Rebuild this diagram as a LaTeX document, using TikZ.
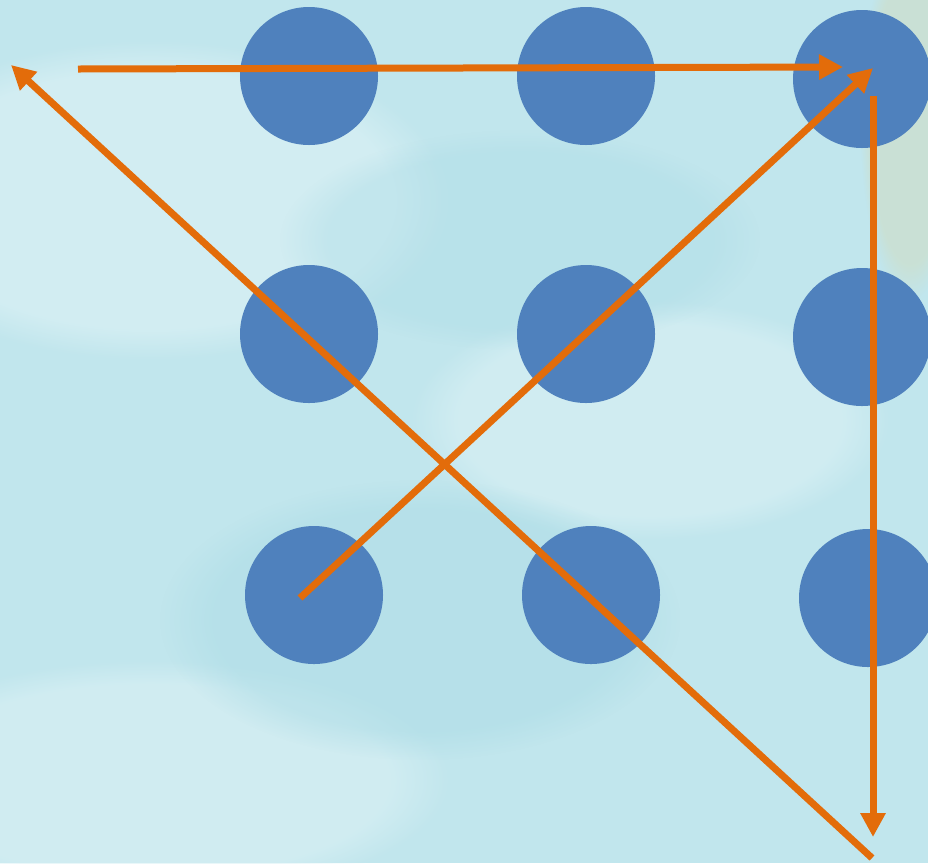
\documentclass[tikz,border=0pt]{standalone}
\usetikzlibrary{arrows.meta,fadings}
\definecolor{bgblue}{RGB}{193,230,237}
\definecolor{bglight}{RGB}{218,241,245}
\definecolor{bgdeep}{RGB}{172,220,230}
\definecolor{sand}{RGB}{210,220,190}
\definecolor{dotblue}{RGB}{79,129,189}
\definecolor{arrorange}{RGB}{227,108,10}
\newcommand{\unitpx}{*0.02cm}
\tikzset{
  dot/.style={circle, fill=dotblue, minimum size=138\unitpx, inner sep=0pt},
  movearrow/.style={draw=arrorange, line width=7\unitpx,
    -{Triangle[length=24\unitpx, width=24\unitpx]}},
  wash/.style={path fading=circle with fuzzy edge 20 percent, fill=#1},
}
\begin{document}
\begin{tikzpicture}[x=0.02cm, y=-0.02cm]
  % background
  \fill[bgblue] (0,0) rectangle (928,863);
  \useasboundingbox (0,0) rectangle (928,863);
  \begin{scope}
    \clip (0,0) rectangle (928,863);
    \fill[wash=bglight, opacity=0.7] (150,200) ellipse (300 and 160);
    \fill[wash=bglight, opacity=0.6] (650,420) ellipse (240 and 120);
    \fill[wash=bglight, opacity=0.6] (150,780) ellipse (300 and 120);
    \fill[wash=bgdeep, opacity=0.5] (420,620) ellipse (260 and 140);
    \fill[wash=bgdeep, opacity=0.4] (520,240) ellipse (240 and 110);
    \fill[wash=sand, opacity=0.5] (910,120) ellipse (50 and 180);
  \end{scope}
  % dots
  \node[dot] (d11) at (309,76) {};
  \node[dot] (d12) at (586,76) {};
  \node[dot] (d13) at (862,79) {};
  \node[dot] (d21) at (309,334) {};
  \node[dot] (d22) at (586,334) {};
  \node[dot] (d23) at (862,337) {};
  \node[dot] (d31) at (314,595) {};
  \node[dot] (d32) at (591,595) {};
  \node[dot] (d33) at (868,598) {};
  % path coordinates
  \coordinate (s1) at (78,69);
  \coordinate (e1) at (843,67);
  \coordinate (s2) at (300,598);
  \coordinate (e2) at (873,68);
  \coordinate (s3) at (873,96);
  \coordinate (e3) at (873,837);
  \coordinate (s4) at (872,858);
  \coordinate (e4) at (11,65);
  % arrows
  \draw[movearrow] (s1) -- (e1);
  \draw[movearrow] (s2) -- (e2);
  \draw[movearrow] (s3) -- (e3);
  \draw[movearrow] (s4) -- (e4);
\end{tikzpicture}
\end{document}
